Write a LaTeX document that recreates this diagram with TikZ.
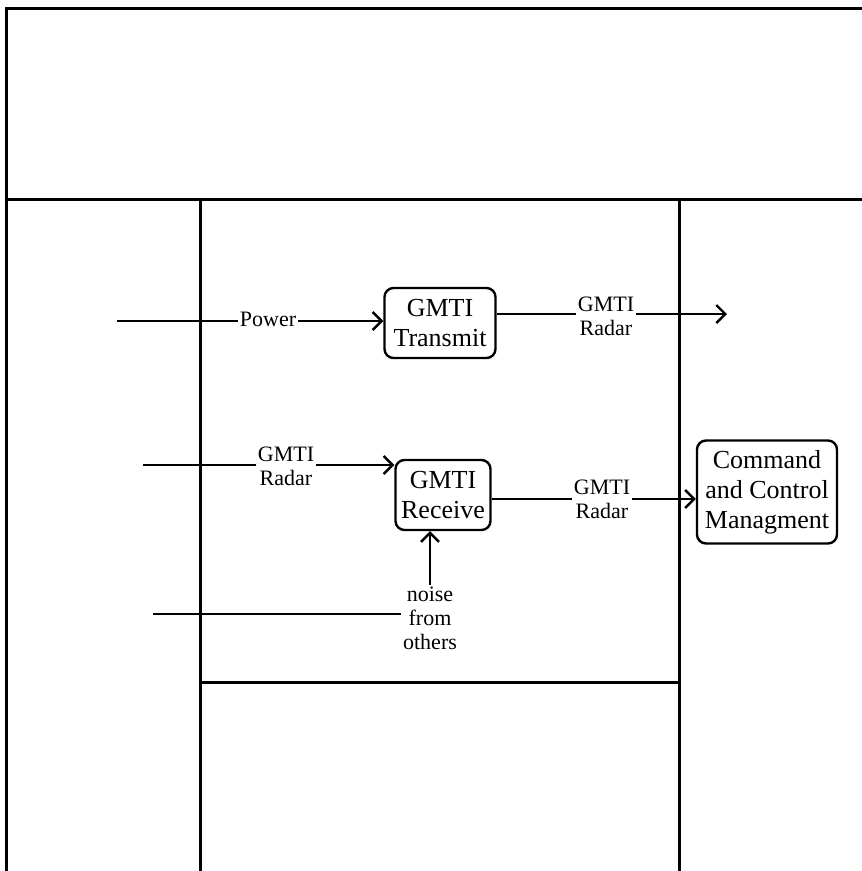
\documentclass[tikz,border=0pt]{standalone}
\usepackage{fontspec}
\setmainfont{Liberation Serif}
\usetikzlibrary{arrows.meta}
\begin{document}
\begin{tikzpicture}[x=1pt,y=-1pt,
  frame/.style={line width=3pt},
  conn/.style={line width=2.4pt},
  arr/.style={conn,-{Straight Barb[length=9pt,width=18pt]}},
  proc/.style={draw,line width=2.4pt,rounded corners=9pt,align=center,inner sep=0pt,font=\fontsize{26}{30}\selectfont},
  lbl/.style={align=center,inner sep=1.5pt,font=\fontsize{22}{24}\selectfont}]
\useasboundingbox (0,0) rectangle (862,871);
% frame
\draw[frame] (6,871) -- (6,8) -- (862,8);
\draw[frame] (6,199) -- (862,199);
\draw[frame] (200,199) -- (200,871);
\draw[frame] (679,199) -- (679,871);
\draw[frame] (200,682) -- (679,682);
% boxes
\node[proc,minimum width=111pt,minimum height=70pt] (tx) at (440,323) {GMTI\\Transmit};
\node[proc,minimum width=95pt,minimum height=70pt] (rx) at (443,495) {GMTI\\Receive};
\node[proc,minimum width=140pt,minimum height=103pt] (cc) at (767,492) {Command\\and Control\\Managment};
% labels
\node[lbl] (pw) at (268,319) {Power};
\node[lbl] (r1) at (606,316) {GMTI\\Radar};
\node[lbl] (r2) at (286,466) {GMTI\\Radar};
\node[lbl] (r3) at (602,499) {GMTI\\Radar};
\node[lbl] (nz) at (430,618) {noise\\from\\others};
% free ends
\coordinate (p0) at (117,321);
\coordinate (t1) at (727,314);
\coordinate (g0) at (143,465);
\coordinate (n0) at (153,614);
% connectors
\draw[conn] (p0) -- (p0 -| pw.west);
\draw[arr] (pw.east |- p0) -- (tx.west |- p0);
\draw[conn] (tx.east |- t1) -- (t1 -| r1.west);
\draw[arr] (t1 -| r1.east) -- (t1);
\draw[conn] (g0) -- (g0 -| r2.west);
\draw[arr] (g0 -| r2.east) -- (rx.west |- g0);
\draw[conn] (rx.east |- r3) -- (r3);
\draw[arr] (r3) -- (cc.west |- r3);
\draw[conn] (n0) -- (n0 -| nz.west);
\draw[arr] (nz.north) -- (nz.north |- rx.south);
\end{tikzpicture}
\end{document}
